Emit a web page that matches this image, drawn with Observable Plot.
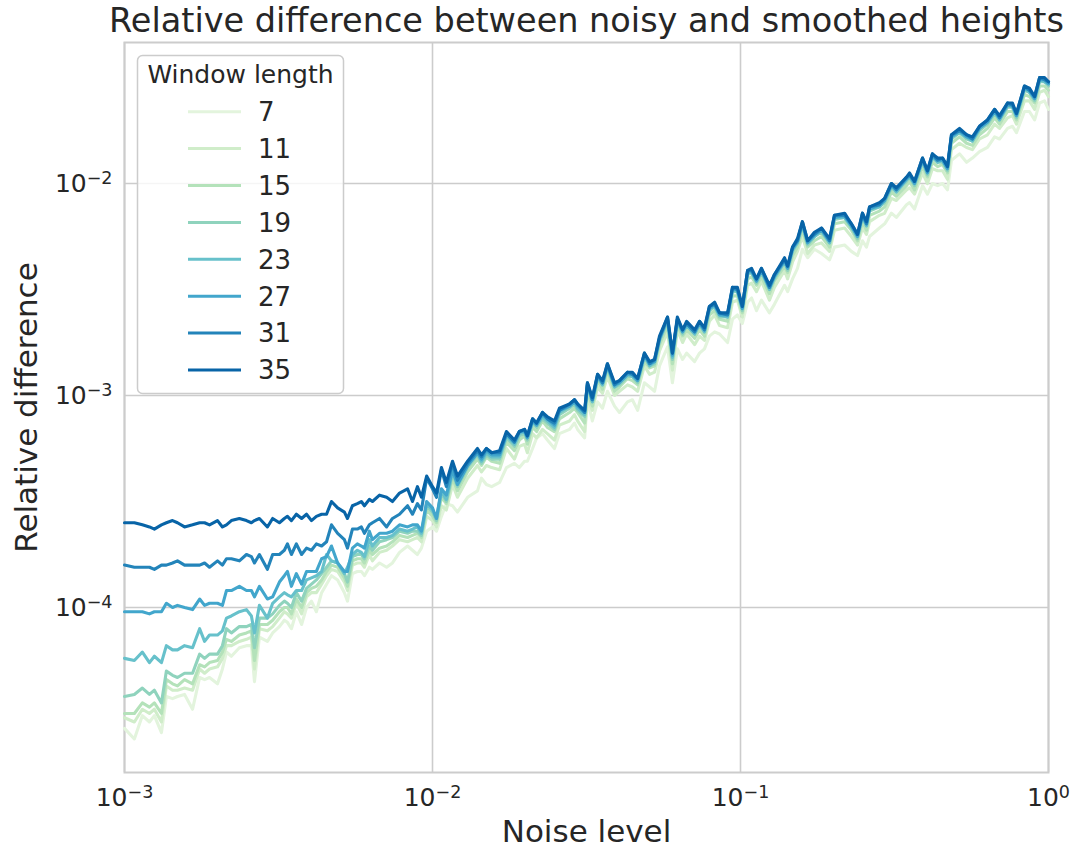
<!DOCTYPE html>
<html><head><meta charset="utf-8">
<script src="https://cdn.jsdelivr.net/npm/d3@7"></script>
<script src="https://cdn.jsdelivr.net/npm/@observablehq/plot@0.6"></script>
<style>
body{margin:0;background:#fff;}
#chart{width:1075px;height:850px;}
</style></head><body><div id="chart"></div>
<script>
// ---- data ----
const windowLengths = [7, 11, 15, 19, 23, 27, 31, 35];
const lineColors = ["#e3f4dd","#d0edca","#b4e2ba","#8fd3bd","#67c1cb","#42a6cc","#2384ba","#0864a7"];
const xTicks = [1e-3, 1e-2, 1e-1, 1];
const yTicks = [1e-4, 1e-3, 1e-2];

// noise level, log10
const noiseLog10 = [-3.000,-2.968,-2.942,-2.919,-2.903,-2.880,-2.864,-2.844,-2.828,-2.805,-2.779,-2.756,-2.740,-2.724,-2.698,-2.682,-2.669,-2.653,-2.627,-2.604,-2.588,-2.578,-2.562,-2.536,-2.519,-2.497,-2.481,-2.471,-2.458,-2.442,-2.425,-2.409,-2.393,-2.377,-2.360,-2.344,-2.328,-2.308,-2.286,-2.276,-2.260,-2.244,
-2.231,-2.221,-2.205,-2.195,-2.172,-2.149,-2.130,-2.107,-2.081,-2.065,-2.049,-2.036,-2.019,-2.000,-1.987,-1.971,-1.955,-1.935,-1.919,-1.886,-1.854,-1.841,-1.825,-1.808,-1.782,-1.760,-1.734,-1.718,-1.701,-1.692,-1.675,-1.662,-1.643,-1.627,-1.604,-1.588,-1.555,-1.539,-1.529,-1.506,-1.497,
-1.481,-1.464,-1.448,-1.432,-1.409,-1.393,-1.367,-1.351,-1.334,-1.312,-1.295,-1.279,-1.263,-1.237,-1.221,-1.205,-1.188,-1.175,-1.149,-1.133,-1.117,-1.101,-1.084,-1.068,-1.042,-1.026,-1.010,-0.994,-0.977,-0.964,-0.948,-0.932,-0.906,-0.890,-0.857,-0.847,-0.831,-0.815,-0.799,-0.782,-0.760,-0.737,-0.711,-0.695,-0.662,-0.640,-0.620,-0.604,-0.591,-0.581,-0.549,-0.532,-0.510,-0.494,-0.461,-0.451,-0.435,-0.409,-0.393,-0.377,-0.360,-0.344,-0.328,-0.315,-0.289,-0.266,-0.247,-0.224,-0.198,-0.175,-0.159,-0.133,-0.117,-0.104,-0.078,-0.062,-0.045,-0.029,-0.013,0.000];

// relative difference, log10, one array per window length
const diffLog10_w7 = [-4.57,-4.62,-4.51,-4.54,-4.51,-4.59,-4.42,-4.43,-4.42,-4.41,-4.48,-4.33,-4.34,-4.33,-4.36,-4.29,-4.21,-4.23,-4.19,-4.18,-4.18,-4.35,-4.14,-4.16,-4.12,-4.09,-4.06,-4.07,-4.10,-4.02,-4.08,-4.00,-3.97,-4.02,-3.93,-3.89,-3.85,-3.87,-3.93,-3.97,-3.84,-3.83,
-3.83,-3.85,-3.81,-3.82,-3.79,-3.81,-3.79,-3.74,-3.71,-3.73,-3.75,-3.72,-3.64,-3.62,-3.64,-3.57,-3.51,-3.52,-3.55,-3.48,-3.45,-3.39,-3.42,-3.43,-3.41,-3.34,-3.32,-3.34,-3.31,-3.31,-3.25,-3.20,-3.18,-3.21,-3.25,-3.18,-3.16,-3.13,-3.16,-3.20,-3.02,
-3.12,-3.03,-3.06,-2.98,-3.05,-3.08,-3.03,-3.02,-3.07,-2.94,-2.96,-2.98,-2.86,-2.77,-2.94,-2.78,-2.83,-2.80,-2.84,-2.80,-2.78,-2.72,-2.70,-2.71,-2.75,-2.64,-2.62,-2.66,-2.56,-2.54,-2.60,-2.55,-2.61,-2.57,-2.48,-2.51,-2.45,-2.40,-2.31,-2.35,-2.31,-2.33,-2.36,-2.30,-2.29,-2.32,-2.34,-2.27,-2.30,-2.25,-2.21,-2.19,-2.14,-2.16,-2.10,-2.09,-2.12,-2.01,-2.05,-2.00,-2.01,-2.00,-2.03,-1.89,-1.86,-1.90,-1.88,-1.85,-1.83,-1.78,-1.79,-1.74,-1.73,-1.76,-1.66,-1.66,-1.70,-1.62,-1.61,-1.65];
const diffLog10_w11 = [-4.52,-4.54,-4.48,-4.50,-4.48,-4.54,-4.37,-4.39,-4.39,-4.38,-4.39,-4.29,-4.31,-4.29,-4.28,-4.24,-4.18,-4.18,-4.16,-4.15,-4.14,-4.29,-4.10,-4.11,-4.09,-4.05,-4.02,-4.03,-4.05,-3.98,-4.03,-3.95,-3.93,-3.93,-3.89,-3.85,-3.82,-3.83,-3.88,-3.92,-3.80,-3.79,
-3.79,-3.81,-3.75,-3.78,-3.74,-3.73,-3.71,-3.68,-3.69,-3.68,-3.67,-3.69,-3.57,-3.59,-3.62,-3.52,-3.54,-3.42,-3.48,-3.39,-3.33,-3.36,-3.33,-3.34,-3.35,-3.25,-3.30,-3.24,-3.23,-3.27,-3.18,-3.20,-3.16,-3.18,-3.21,-3.14,-3.12,-3.09,-3.12,-3.17,-3.01,
-3.07,-2.96,-2.99,-2.91,-3.00,-2.98,-2.95,-2.96,-2.98,-2.86,-2.90,-2.89,-2.79,-2.70,-2.88,-2.69,-2.75,-2.71,-2.76,-2.72,-2.74,-2.65,-2.62,-2.67,-2.68,-2.56,-2.55,-2.63,-2.48,-2.47,-2.51,-2.46,-2.55,-2.49,-2.41,-2.45,-2.37,-2.32,-2.25,-2.33,-2.29,-2.28,-2.32,-2.22,-2.21,-2.25,-2.29,-2.21,-2.24,-2.18,-2.15,-2.14,-2.07,-2.08,-2.03,-2.02,-2.05,-1.95,-2.00,-1.93,-1.94,-1.94,-1.98,-1.84,-1.81,-1.83,-1.84,-1.79,-1.77,-1.72,-1.74,-1.69,-1.68,-1.72,-1.61,-1.61,-1.65,-1.57,-1.56,-1.59];
const diffLog10_w15 = [-4.50,-4.50,-4.45,-4.47,-4.45,-4.50,-4.34,-4.36,-4.37,-4.34,-4.36,-4.27,-4.28,-4.26,-4.25,-4.21,-4.15,-4.16,-4.13,-4.12,-4.11,-4.25,-4.08,-4.08,-4.06,-4.02,-4.00,-4.00,-4.03,-3.96,-4.00,-3.93,-3.91,-3.90,-3.87,-3.83,-3.80,-3.81,-3.86,-3.90,-3.78,-3.77,
-3.77,-3.79,-3.73,-3.75,-3.72,-3.71,-3.69,-3.66,-3.67,-3.66,-3.65,-3.67,-3.54,-3.57,-3.60,-3.48,-3.51,-3.39,-3.45,-3.36,-3.30,-3.33,-3.29,-3.31,-3.32,-3.22,-3.26,-3.21,-3.19,-3.23,-3.15,-3.17,-3.12,-3.15,-3.17,-3.11,-3.08,-3.06,-3.08,-3.13,-2.98,
-3.05,-2.93,-2.97,-2.88,-2.98,-2.96,-2.92,-2.93,-2.95,-2.84,-2.87,-2.86,-2.76,-2.67,-2.85,-2.67,-2.72,-2.69,-2.73,-2.69,-2.72,-2.62,-2.60,-2.64,-2.65,-2.53,-2.53,-2.61,-2.45,-2.44,-2.48,-2.44,-2.52,-2.46,-2.39,-2.42,-2.34,-2.30,-2.22,-2.30,-2.27,-2.25,-2.30,-2.19,-2.18,-2.22,-2.27,-2.18,-2.22,-2.15,-2.13,-2.11,-2.04,-2.06,-2.01,-1.99,-2.03,-1.92,-1.97,-1.90,-1.92,-1.91,-1.95,-1.81,-1.78,-1.81,-1.82,-1.77,-1.74,-1.69,-1.72,-1.66,-1.66,-1.70,-1.58,-1.59,-1.62,-1.54,-1.54,-1.56];
const diffLog10_w19 = [-4.42,-4.41,-4.38,-4.41,-4.39,-4.45,-4.30,-4.32,-4.33,-4.31,-4.31,-4.22,-4.24,-4.22,-4.22,-4.18,-4.10,-4.12,-4.09,-4.09,-4.08,-4.19,-4.05,-4.05,-4.03,-3.99,-3.97,-3.98,-4.00,-3.93,-3.97,-3.91,-3.89,-3.87,-3.84,-3.81,-3.78,-3.79,-3.84,-3.88,-3.76,-3.75,
-3.75,-3.77,-3.71,-3.73,-3.69,-3.68,-3.67,-3.64,-3.65,-3.64,-3.64,-3.66,-3.52,-3.55,-3.59,-3.46,-3.50,-3.37,-3.43,-3.34,-3.28,-3.32,-3.28,-3.30,-3.30,-3.20,-3.24,-3.19,-3.18,-3.21,-3.13,-3.15,-3.11,-3.13,-3.16,-3.09,-3.06,-3.04,-3.07,-3.10,-2.96,
-3.03,-2.92,-2.95,-2.87,-2.96,-2.95,-2.91,-2.91,-2.94,-2.82,-2.86,-2.85,-2.74,-2.65,-2.83,-2.65,-2.71,-2.67,-2.71,-2.67,-2.70,-2.60,-2.58,-2.63,-2.63,-2.51,-2.51,-2.60,-2.43,-2.42,-2.47,-2.42,-2.50,-2.45,-2.37,-2.41,-2.32,-2.28,-2.20,-2.29,-2.25,-2.23,-2.28,-2.17,-2.16,-2.21,-2.26,-2.16,-2.20,-2.13,-2.11,-2.09,-2.02,-2.04,-1.99,-1.97,-2.01,-1.90,-1.96,-1.88,-1.90,-1.90,-1.94,-1.79,-1.76,-1.79,-1.80,-1.75,-1.72,-1.67,-1.70,-1.64,-1.64,-1.69,-1.56,-1.57,-1.61,-1.52,-1.52,-1.54];
const diffLog10_w23 = [-4.24,-4.25,-4.21,-4.26,-4.23,-4.26,-4.18,-4.20,-4.20,-4.18,-4.19,-4.10,-4.16,-4.13,-4.13,-4.11,-4.05,-4.04,-4.02,-4.01,-4.04,-4.12,-3.99,-4.05,-3.98,-3.95,-3.93,-3.94,-3.95,-3.92,-3.92,-3.87,-3.86,-3.85,-3.83,-3.75,-3.78,-3.79,-3.84,-3.81,-3.75,-3.73,
-3.74,-3.76,-3.68,-3.71,-3.67,-3.67,-3.66,-3.63,-3.64,-3.63,-3.62,-3.65,-3.51,-3.54,-3.58,-3.45,-3.49,-3.36,-3.42,-3.33,-3.27,-3.31,-3.27,-3.29,-3.29,-3.19,-3.23,-3.18,-3.17,-3.20,-3.12,-3.14,-3.10,-3.12,-3.15,-3.08,-3.05,-3.03,-3.06,-3.09,-2.95,
-3.03,-2.91,-2.95,-2.86,-2.96,-2.94,-2.90,-2.91,-2.93,-2.81,-2.86,-2.84,-2.74,-2.64,-2.82,-2.65,-2.70,-2.67,-2.71,-2.66,-2.70,-2.59,-2.58,-2.62,-2.63,-2.50,-2.51,-2.59,-2.42,-2.42,-2.46,-2.41,-2.50,-2.44,-2.37,-2.40,-2.31,-2.28,-2.19,-2.28,-2.25,-2.22,-2.28,-2.16,-2.16,-2.20,-2.25,-2.15,-2.20,-2.12,-2.11,-2.08,-2.01,-2.04,-1.98,-1.97,-2.00,-1.89,-1.95,-1.87,-1.90,-1.89,-1.93,-1.78,-1.76,-1.78,-1.80,-1.74,-1.71,-1.66,-1.70,-1.63,-1.64,-1.68,-1.55,-1.57,-1.60,-1.51,-1.52,-1.53];
const diffLog10_w27 = [-4.02,-4.02,-4.02,-4.03,-4.02,-4.02,-3.98,-4.00,-3.99,-4.00,-4.01,-3.96,-3.99,-3.98,-3.98,-3.99,-3.92,-3.92,-3.90,-3.92,-3.92,-3.95,-3.90,-3.96,-3.95,-3.88,-3.85,-3.83,-3.90,-3.84,-3.89,-3.83,-3.83,-3.83,-3.77,-3.76,-3.71,-3.79,-3.83,-3.83,-3.72,-3.70,
-3.71,-3.72,-3.64,-3.68,-3.65,-3.65,-3.64,-3.61,-3.62,-3.61,-3.61,-3.64,-3.50,-3.53,-3.58,-3.44,-3.47,-3.35,-3.42,-3.33,-3.27,-3.30,-3.26,-3.28,-3.28,-3.18,-3.22,-3.17,-3.17,-3.20,-3.12,-3.14,-3.09,-3.11,-3.14,-3.07,-3.05,-3.03,-3.05,-3.08,-2.95,
-3.02,-2.91,-2.94,-2.86,-2.95,-2.94,-2.90,-2.90,-2.93,-2.81,-2.85,-2.84,-2.73,-2.64,-2.81,-2.64,-2.70,-2.66,-2.70,-2.66,-2.69,-2.59,-2.57,-2.62,-2.62,-2.50,-2.50,-2.59,-2.42,-2.41,-2.46,-2.41,-2.49,-2.44,-2.36,-2.40,-2.31,-2.27,-2.19,-2.28,-2.24,-2.22,-2.27,-2.16,-2.15,-2.20,-2.25,-2.15,-2.19,-2.12,-2.10,-2.08,-2.01,-2.03,-1.98,-1.96,-2.00,-1.89,-1.95,-1.87,-1.89,-1.89,-1.93,-1.78,-1.75,-1.78,-1.79,-1.74,-1.71,-1.66,-1.69,-1.63,-1.63,-1.68,-1.55,-1.56,-1.60,-1.51,-1.51,-1.53];
const diffLog10_w31 = [-3.80,-3.81,-3.81,-3.81,-3.82,-3.80,-3.80,-3.79,-3.78,-3.80,-3.80,-3.80,-3.79,-3.81,-3.78,-3.80,-3.77,-3.77,-3.78,-3.75,-3.76,-3.79,-3.75,-3.82,-3.75,-3.75,-3.73,-3.70,-3.75,-3.70,-3.75,-3.72,-3.73,-3.70,-3.71,-3.69,-3.61,-3.65,-3.68,-3.72,-3.63,-3.63,
-3.62,-3.65,-3.61,-3.60,-3.58,-3.62,-3.58,-3.56,-3.52,-3.56,-3.51,-3.54,-3.39,-3.44,-3.48,-3.35,-3.43,-3.32,-3.40,-3.32,-3.26,-3.29,-3.25,-3.27,-3.27,-3.18,-3.22,-3.17,-3.16,-3.19,-3.11,-3.13,-3.08,-3.11,-3.13,-3.07,-3.04,-3.02,-3.04,-3.08,-2.94,
-3.02,-2.90,-2.94,-2.85,-2.95,-2.93,-2.89,-2.90,-2.92,-2.80,-2.85,-2.83,-2.73,-2.63,-2.80,-2.64,-2.69,-2.66,-2.70,-2.65,-2.69,-2.58,-2.57,-2.61,-2.62,-2.49,-2.50,-2.58,-2.41,-2.41,-2.45,-2.40,-2.49,-2.43,-2.36,-2.39,-2.30,-2.27,-2.18,-2.27,-2.24,-2.21,-2.27,-2.15,-2.15,-2.19,-2.24,-2.14,-2.19,-2.11,-2.10,-2.07,-2.00,-2.03,-1.97,-1.96,-1.99,-1.88,-1.94,-1.86,-1.89,-1.88,-1.92,-1.77,-1.75,-1.77,-1.79,-1.73,-1.70,-1.65,-1.69,-1.62,-1.63,-1.67,-1.54,-1.56,-1.59,-1.50,-1.51,-1.52];
const diffLog10_w35 = [-3.60,-3.60,-3.61,-3.62,-3.63,-3.61,-3.60,-3.59,-3.60,-3.62,-3.61,-3.60,-3.60,-3.61,-3.59,-3.62,-3.61,-3.59,-3.58,-3.59,-3.60,-3.59,-3.58,-3.62,-3.58,-3.60,-3.58,-3.57,-3.59,-3.56,-3.58,-3.56,-3.59,-3.57,-3.56,-3.56,-3.50,-3.53,-3.55,-3.58,-3.52,-3.51,
-3.50,-3.52,-3.49,-3.50,-3.47,-3.48,-3.50,-3.46,-3.44,-3.50,-3.43,-3.48,-3.38,-3.43,-3.46,-3.34,-3.41,-3.31,-3.38,-3.31,-3.25,-3.28,-3.25,-3.27,-3.26,-3.17,-3.21,-3.17,-3.16,-3.19,-3.11,-3.13,-3.08,-3.10,-3.12,-3.06,-3.04,-3.02,-3.04,-3.07,-2.94,
-3.01,-2.90,-2.93,-2.85,-2.94,-2.93,-2.89,-2.89,-2.92,-2.80,-2.84,-2.83,-2.72,-2.63,-2.80,-2.63,-2.69,-2.65,-2.69,-2.65,-2.68,-2.58,-2.56,-2.61,-2.61,-2.49,-2.49,-2.58,-2.41,-2.40,-2.45,-2.40,-2.48,-2.43,-2.35,-2.39,-2.30,-2.26,-2.18,-2.27,-2.23,-2.21,-2.26,-2.15,-2.14,-2.19,-2.24,-2.14,-2.18,-2.11,-2.09,-2.07,-2.00,-2.02,-1.97,-1.95,-1.99,-1.88,-1.94,-1.86,-1.88,-1.88,-1.92,-1.77,-1.74,-1.77,-1.78,-1.73,-1.70,-1.65,-1.68,-1.62,-1.62,-1.67,-1.54,-1.55,-1.59,-1.50,-1.50,-1.52];

const seriesByWindow = [diffLog10_w7, diffLog10_w11, diffLog10_w15, diffLog10_w19, diffLog10_w23, diffLog10_w27, diffLog10_w31, diffLog10_w35];

const titleText = "Relative difference between noisy and smoothed heights";
const xLabel = "Noise level";
const yLabel = "Relative difference";
const legendTitle = "Window length";

// ---- build rows ----
const rows = [];
windowLengths.forEach((w, k) => {
  const s = seriesByWindow[k];
  const n = Math.min(s.length, noiseLog10.length);
  for (let i = 0; i < n; i++) rows.push({window: w, noise: 10 ** noiseLog10[i], diff: 10 ** s[i]});
});

const ink = "#262626";
const gridColor = "#cccccc";
const expFormat = d => "10^" + Math.round(Math.log10(d));

const chart = Plot.plot({
  width: 1075,
  height: 850,
  marginLeft: 124,
  marginRight: 27,
  marginTop: 42,
  marginBottom: 78,
  style: {fontFamily: "DejaVu Sans", fontSize: "25px", color: ink, background: "#ffffff", overflow: "visible"},
  x: {type: "log", domain: [1e-3, 1]},
  y: {type: "log", domain: [1.666e-5, 0.04626]},
  color: {type: "ordinal", domain: windowLengths, range: lineColors},
  marks: [
    Plot.gridX(xTicks, {stroke: gridColor, strokeOpacity: 1, strokeWidth: 1.6}),
    Plot.gridY(yTicks, {stroke: gridColor, strokeOpacity: 1, strokeWidth: 1.6}),
    Plot.frame({stroke: gridColor, strokeWidth: 2}),
    Plot.line(rows, {x: "noise", y: "diff", z: "window", stroke: "window", strokeWidth: 3.1, strokeLinejoin: "round", strokeLinecap: "round"}),
    Plot.axisX(xTicks, {tickSize: 0, tickPadding: 16, tickFormat: expFormat, fontSize: 25, fill: ink, label: null}),
    Plot.axisY(yTicks, {tickSize: 0, tickPadding: 12, tickFormat: expFormat, fontSize: 25, fill: ink, label: null}),
    Plot.text([titleText], {frameAnchor: "top", lineAnchor: "middle", dy: -21, fontSize: 33.5, fill: ink}),
    Plot.text([xLabel], {frameAnchor: "bottom", lineAnchor: "middle", dy: 60, fontSize: 31, fill: ink}),
    Plot.text([yLabel], {frameAnchor: "left", textAnchor: "middle", lineAnchor: "middle", dx: -97, rotate: -90, fontSize: 31, fill: ink})
  ]
});

document.getElementById("chart").appendChild(chart);
const svg = d3.select(chart);

// superscript exponents on tick labels
svg.selectAll('g[aria-label="x-axis tick label"] text, g[aria-label="y-axis tick label"] text').each(function() {
  const t = d3.select(this);
  const s = t.text();
  const m = s.match(/^10\^(-?\d+)$/);
  if (!m) return;
  const e = m[1].replace("-", "\u2212");
  t.text("10");
  t.append("tspan").attr("dy", "-0.45em").attr("font-size", "0.7em").text(e);
});

// legend (inside the plot, upper left)
const lg = svg.append("g").attr("font-family", "DejaVu Sans").attr("fill", ink);
lg.append("rect").attr("x", 137.5).attr("y", 55.5).attr("width", 206).attr("height", 338).attr("rx", 5)
  .attr("fill", "#ffffff").attr("fill-opacity", 0.8).attr("stroke", gridColor).attr("stroke-width", 1.5);
lg.append("text").attr("x", 240.5).attr("y", 83).attr("text-anchor", "middle").attr("font-size", 25).text(legendTitle);
windowLengths.forEach((w, k) => {
  const y = 111.7 + k * 36.9;
  lg.append("line").attr("x1", 188).attr("x2", 241).attr("y1", y).attr("y2", y)
    .attr("stroke", lineColors[k]).attr("stroke-width", 3);
  lg.append("text").attr("x", 258).attr("y", y).attr("dy", "0.36em").attr("text-anchor", "start").attr("font-size", 26).text(String(w));
});
</script>
</body></html>
